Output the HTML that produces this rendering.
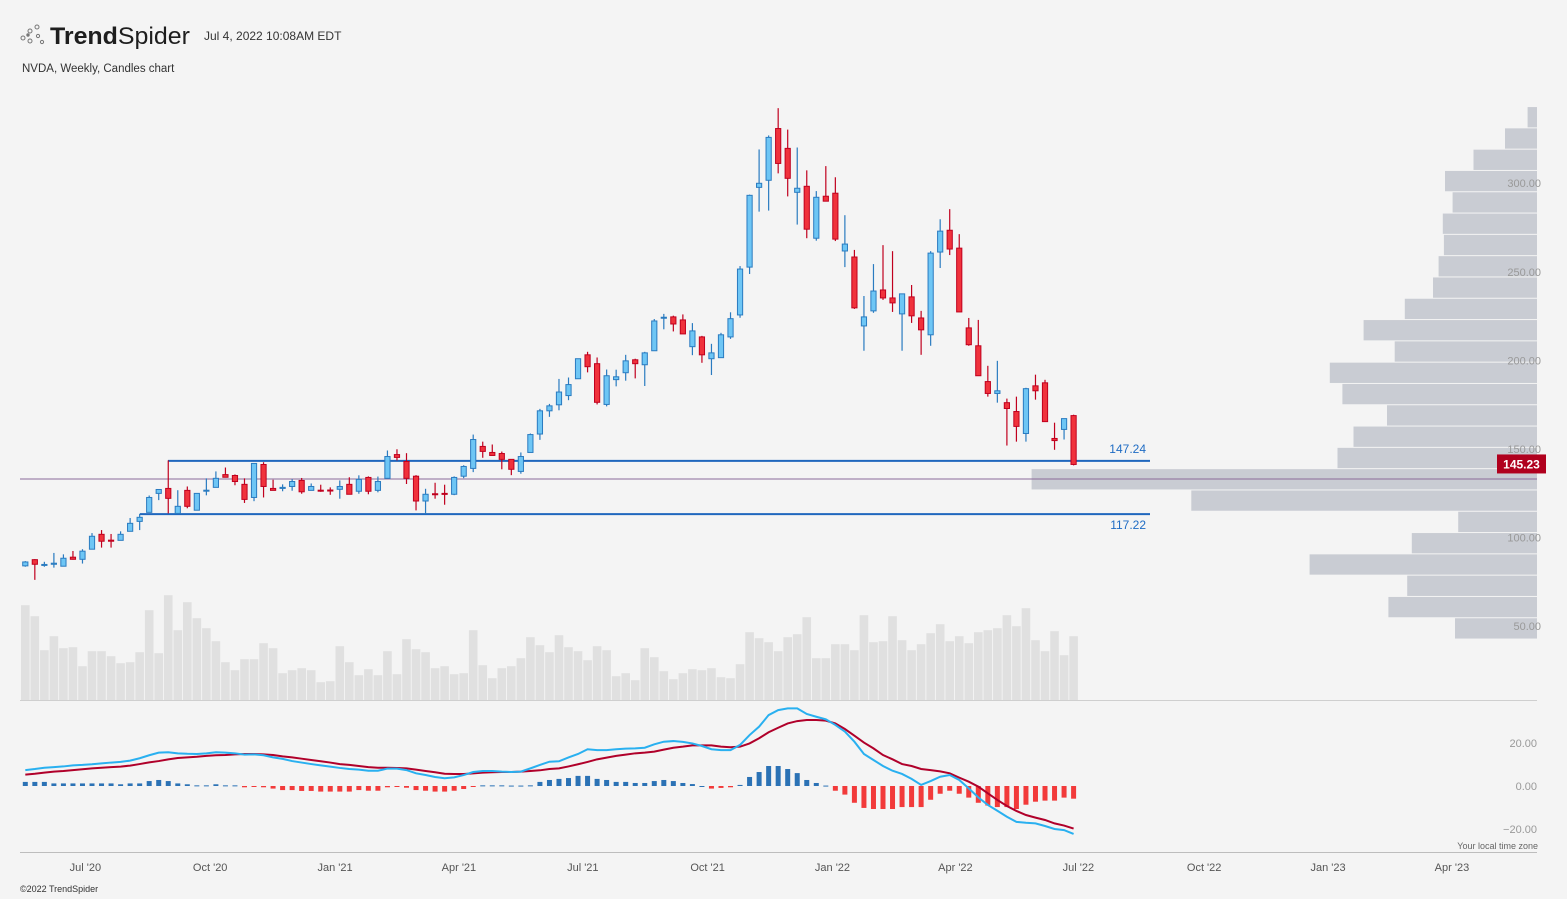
<!DOCTYPE html>
<html><head><meta charset="utf-8"><title>NVDA Weekly - TrendSpider</title>
<style>
html,body{margin:0;padding:0;background:#f4f4f4;}
svg{display:block;font-family:"Liberation Sans",sans-serif;}
</style></head>
<body>
<svg id="chart" width="1567" height="899" viewBox="0 0 1567 899" xmlns="http://www.w3.org/2000/svg">
<rect x="0" y="0" width="1567" height="899" fill="#f4f4f4"/>
<g fill="none" stroke="#777" stroke-width="1">
<circle cx="23" cy="38" r="2"/><circle cx="30" cy="31" r="2"/><circle cx="37" cy="27" r="2"/><circle cx="30" cy="41" r="2"/><circle cx="38" cy="36" r="1.6"/><circle cx="42" cy="42" r="1.6"/><circle cx="28" cy="35" r="1.2" fill="#777"/>
</g>
<text x="50" y="44" font-size="24" fill="#1e1e1e" textLength="140" lengthAdjust="spacingAndGlyphs"><tspan font-weight="bold">Trend</tspan><tspan font-weight="normal">Spider</tspan></text>
<text x="204" y="40" font-size="12" fill="#333">Jul 4, 2022 10:08AM EDT</text>
<text x="22" y="72" font-size="11.5" fill="#333">NVDA, Weekly, Candles chart</text>
<g id="profile"></g>
<g id="volume"></g>
<g id="levels"></g>
<g id="candles"></g>
<g id="yaxis"></g>
<g id="macd"></g>
<g id="xaxis"></g>
<text x="1538" y="849" font-size="9" fill="#666" text-anchor="end">Your local time zone</text>
<text x="20" y="892" font-size="9" fill="#333">©2022 TrendSpider</text>
</svg>
<script>
const opens=[88,91.5,88.3,88.9,87.8,92.9,91.7,97.4,105.8,102.5,102.4,107.5,113.1,118.2,128.9,131.7,117.6,130.6,119.4,130.5,132.3,139.5,139,134,126.6,145.2,131.7,131.7,132.8,136.2,130.6,130.7,130.8,131.2,134,130.1,137.9,130.6,137.4,150.8,146.9,138.6,124.6,128.7,128.9,128.4,138.6,143,155.4,152,151.4,148.1,141.3,152,162.4,175.5,178.9,184.1,193.6,207.1,202.1,179.1,193.1,197,204.3,201.5,209.4,228,228.5,226.8,211.7,217.2,204.9,205.5,217.2,229.6,256.6,301.6,305.6,334.8,323.6,298.8,302.2,272.9,296.6,298.3,265.7,262.3,223.4,231.9,243.7,239.2,230.2,239.8,227.9,218.4,265.1,277.4,267.3,222.3,212.2,192,185.3,180.1,175.1,162.7,189.6,191.3,159.9,165,172.8];
const highs=[90.7,91.8,90.3,95.3,94.5,96.4,97.4,106.5,108.2,106,107.5,115,117.4,127.7,131.1,147.5,130.7,132.8,128.9,137.4,141.3,143.5,139.6,137.4,145.8,146.5,136.6,134,136.9,137.6,134.5,133.8,132.3,136.2,138,139.1,138.5,138.4,153.1,153.8,151.6,139.2,131.5,134.9,133.8,138.5,144.8,162.1,158.1,156.5,152.5,148.1,152,162.7,176.6,179.4,193.5,194.3,204.9,208.8,205.6,198.8,198.7,207.1,204.9,208.8,227.3,230.2,229.2,229.9,225,217.8,213.3,219.5,231.1,257.2,297.5,323,330.9,346.3,334.2,324.1,311.2,299.5,313.6,307.3,285.9,266.3,240.3,258.3,269,265.6,241.5,246.5,231.9,265.6,283.6,289.3,275.2,227.9,226.8,200.9,203.7,182.4,183.5,188.5,195.9,193,168.8,171.1,173.3];
const lows=[87.5,80.1,87.5,87,87.8,91.5,89.3,97.4,98.3,98.3,102.4,107.5,108.2,118.2,125.1,117.6,117.6,120.5,119.4,127.8,132.3,138,133.5,123.5,124.5,126.6,130.6,130.1,130.4,128.7,130.6,129.8,128.1,125.9,128.4,128.7,128.4,129.5,137.4,147.5,134.2,119.3,117.3,125.9,122.5,127.9,137.5,140.9,149,150.3,142.5,139.2,140,152,159.1,172.1,175.8,181.5,193.6,197.2,179.1,178,189.3,192.5,193.8,189.5,209.4,221.5,220.3,218.9,206.9,202.6,195.7,205.5,216.1,228,252.7,287.9,288.5,309.5,296.5,280.6,272.9,271.5,293.8,271.3,256.6,233,209.4,230.8,238.1,231.3,209.4,225.1,207.1,212.2,256.1,263.4,231.3,212.2,195.3,183.5,180.1,155.9,158.1,158.1,181.8,169.4,153.5,159.3,144.7];
const closes=[90.2,88.9,88.8,89.5,92.3,91.7,96.3,104.7,101.9,101.9,105.8,112,115.4,126.6,131.1,126.1,121.6,121.6,128.9,130.7,137.4,138,135.6,125.5,145.8,132.8,130.6,132.3,135.6,129.8,132.8,130.4,130.6,132.8,128.4,136.8,130.1,135.6,149.7,149.2,137.4,124.6,128.4,128.5,128.4,137.9,144.1,159.3,152.6,150.3,148.1,142.5,149.7,162.1,175.5,178.3,186.1,190.3,204.9,200.4,180.3,195.3,194.7,203.7,202.1,208.2,226.2,228.3,224.5,218.9,220.6,207.1,208.2,218.4,227.5,255.5,297.1,303.9,329.8,315.1,306.7,301.1,278,296,293.8,272.4,269.6,233.6,228.5,243.1,239.2,236.4,241.5,229.1,221.2,264.5,276.9,266.8,231.3,212.8,195.3,185.3,186.8,176.8,166.7,188,186.8,169.4,158.7,171.1,145.23];
const volumes=[474,419,249,319,259,264,169,244,244,219,184,189,239,449,234,524,349,489,409,359,294,189,149,204,204,284,259,134,149,159,149,89,94,269,189,124,154,124,244,129,304,254,239,159,169,129,134,349,174,109,159,169,209,314,274,239,324,264,244,199,269,249,119,134,99,259,214,144,104,134,154,149,159,114,109,179,339,309,289,244,314,329,414,209,209,279,279,249,424,289,294,419,299,249,279,334,379,294,319,284,339,349,359,424,369,459,299,244,344,224,319];
const macdLine=[7.4,7.9,8.5,8.8,9.1,9.6,9.8,10.1,10.5,10.9,11.2,11.8,12.9,14.3,15.5,15.7,15.2,15.0,14.9,15.2,15.7,15.5,15.2,14.6,14.7,14.3,13.3,12.6,11.6,10.9,10.2,9.6,9.0,8.4,7.9,7.6,7.1,7.1,8.1,8.1,7.4,5.9,5.1,4.2,3.6,4.0,5.1,6.5,7.0,7.0,6.7,6.5,6.7,8.2,9.8,11.3,11.5,13.3,14.9,17.1,16.7,16.7,17.1,17.4,17.5,17.8,19.4,20.6,20.9,20.5,19.8,18.6,17.1,16.7,16.7,19.1,23.7,27.6,33.0,35.3,36.1,36.1,33.5,32.2,31.0,28.4,25.3,20.6,14.9,12.1,9.3,7.1,5.6,3.3,0.5,2.3,4.3,5.1,2.8,-1.1,-5.3,-8.8,-11.5,-14.3,-16.7,-17.1,-17.4,-18.6,-20.0,-20.5,-22.3];
const signalLine=[5.3,5.7,6.2,6.7,7.0,7.4,7.8,8.2,8.5,8.8,9.0,9.5,10.2,11.0,11.6,12.4,13.0,13.3,13.6,14.0,14.3,14.4,14.7,14.9,14.9,14.7,14.4,13.8,13.3,12.7,12.1,11.5,10.9,10.2,9.8,9.3,8.8,8.5,8.5,8.4,8.2,7.6,7.0,6.4,5.7,5.6,5.6,5.9,6.2,6.4,6.5,6.5,6.7,7.0,7.3,7.9,8.2,9.1,10.1,11.2,12.4,13.2,14.0,14.6,15.2,15.5,16.0,16.9,17.8,18.3,18.9,18.9,18.9,18.3,18.0,18.3,19.8,22.2,25.0,27.1,29.1,30.2,30.7,30.7,30.4,29.1,26.5,23.4,20.2,17.5,14.4,12.4,10.2,9.3,7.9,7.4,6.8,5.9,3.9,2.0,-0.3,-3.4,-6.5,-9.3,-11.6,-13.5,-14.7,-15.8,-17.4,-18.4,-19.8];
const histValues=[1.9,1.9,1.9,1.2,1.2,1.2,1.2,1.2,1.2,1.2,0.8,1.2,1.2,2.3,2.8,2.3,1.2,0.8,0.3,0.3,0.8,0.3,0.3,-0.6,-0.2,-0.6,-1.2,-1.9,-1.9,-2.3,-2.3,-2.6,-2.6,-2.6,-2.6,-1.9,-2.2,-2.2,-0.6,-0.2,-0.8,-1.9,-2.2,-2.6,-2.6,-2.2,-1.4,-0.2,0.3,0.3,0.3,0.2,0.2,0.3,1.9,2.8,3.3,3.7,4.7,4.7,3.3,2.8,1.9,1.9,1.4,1.4,2.3,2.8,2.3,1.4,0.9,0,-1.2,-0.9,-0.6,0.5,4.2,6.5,9.3,9.3,7.9,6,2.8,1.4,0.2,-2.2,-4,-7.8,-10.2,-10.7,-10.7,-10.7,-9.8,-9.8,-9.8,-6.4,-3.6,-2.2,-3.6,-5.4,-7.8,-9.1,-9.8,-9.8,-10.7,-8.7,-7.3,-6.8,-6.8,-5.4,-5.9];
const profileVolumes=[82,148.6,129.8,227.4,125.2,78.8,345.7,505.4,199.5,183.5,150,194.6,207.2,142.3,173.4,132.2,104,98.4,93.1,94.2,84.4,92,63.5,32,9.4];
const profileLow=46.7, profileStep=12.02;
const priceTicks=[50,100,150,200,250,300];
const macdTicks=[20,0,-20];
const timeLabels=["Jul '20","Oct '20","Jan '21","Apr '21","Jul '21","Oct '21","Jan '22","Apr '22","Jul '22","Oct '22","Jan '23","Apr '23"];
const timeLabelIndex=[6.3,19.4,32.5,45.5,58.5,71.6,84.7,97.6,110.5,123.7,136.7,149.7];
const upperLevel=147.24, lowerLevel=117.22, pocLevel=137, lastPrice=145.23;

const NS="http://www.w3.org/2000/svg";
function mk(tag,attrs,parent){const e=document.createElementNS(NS,tag);for(const k in attrs)e.setAttribute(k,attrs[k]);parent.appendChild(e);return e;}
const X=i=>25.3+9.53*i;
const Y=p=>456+(150-p)*1.772;
const VY=v=>700-v/5;
const MY=v=>786-v*2.15;

const gp=document.getElementById('profile');
profileVolumes.forEach((v,k)=>{
  const top=Y(profileLow+(k+1)*profileStep), bot=Y(profileLow+k*profileStep);
  const r=mk('rect',{x:1537-v,y:top+0.5,width:v,height:bot-top-1,fill:'#c9ccd3'},gp);
  
  
});

const gv=document.getElementById('volume');
mk('line',{x1:20,y1:700.5,x2:1537,y2:700.5,stroke:'#cfcfcf','stroke-width':1},gv);
volumes.forEach((v,i)=>{
  const r=mk('rect',{x:X(i)-4.3,y:VY(v),width:8.6,height:700-VY(v),fill:'#e0e0e0'},gv);
  
  
});

const gl=document.getElementById('levels');
const poc=mk('line',{x1:20,y1:Y(pocLevel),x2:1537,y2:Y(pocLevel),stroke:'#8a6a9a','stroke-width':1},gl);


const ul=mk('line',{x1:168,y1:Y(upperLevel),x2:1150,y2:Y(upperLevel),stroke:'#1f67bd','stroke-width':2},gl);


const ll=mk('line',{x1:140,y1:Y(lowerLevel),x2:1150,y2:Y(lowerLevel),stroke:'#1f67bd','stroke-width':2},gl);


const ut=mk('text',{x:1146,y:Y(upperLevel)-8,'font-size':12,fill:'#1f6cc4','text-anchor':'end'},gl);ut.textContent=upperLevel.toFixed(2);


const lt=mk('text',{x:1146,y:Y(lowerLevel)+15,'font-size':12,fill:'#1f6cc4','text-anchor':'end'},gl);lt.textContent=lowerLevel.toFixed(2);



const gc=document.getElementById('candles');
opens.forEach((o,i)=>{
  const c=closes[i],up=c>=o,x=X(i);
  const stroke=up?'#2a7bc0':'#c0001e',fill=up?'#6ec6f5':'#f0323c';
  const g=mk('g',{},gc);
  
  
  mk('line',{x1:x,y1:Y(highs[i]),x2:x,y2:Y(lows[i]),stroke:stroke,'stroke-width':1.2},g);
  const t=Y(Math.max(o,c)),b=Y(Math.min(o,c));
  mk('rect',{x:x-2.6,y:t,width:5.2,height:Math.max(1,b-t),fill:fill,stroke:stroke,'stroke-width':1},g);
});

const gy=document.getElementById('yaxis');
priceTicks.forEach(p=>{
  const t=mk('text',{x:1541,y:Y(p)-3,'font-size':11,fill:'#999','text-anchor':'end'},gy);t.textContent=p.toFixed(2);
  
  
});
const tag=mk('rect',{x:1497,y:Y(lastPrice)-10,width:49,height:19,fill:'#b0001e'},gy);


const tt=mk('text',{x:1521.5,y:Y(lastPrice)+4,'font-size':12,'font-weight':'bold',fill:'#fff','text-anchor':'middle'},gy);tt.textContent=lastPrice.toFixed(2);



const gm=document.getElementById('macd');
histValues.forEach((v,i)=>{
  const y0=MY(0),y1=MY(v);
  const r=mk('rect',{x:X(i)-2.5,y:Math.min(y0,y1),width:5,height:Math.max(1,Math.abs(y1-y0)),fill:v>=0?'#2b72b5':'#f23a3a'},gm);
  
  
});
const sp=mk('polyline',{points:signalLine.map((v,i)=>X(i)+','+MY(v)).join(' '),fill:'none',stroke:'#b0002a','stroke-width':2},gm);


const mp=mk('polyline',{points:macdLine.map((v,i)=>X(i)+','+MY(v)).join(' '),fill:'none',stroke:'#29b0f0','stroke-width':2},gm);


macdTicks.forEach(v=>{
  const t=mk('text',{x:1537,y:MY(v)+4,'font-size':11,fill:'#999','text-anchor':'end'},gm);t.textContent=(v<0?'\u221220.00':v.toFixed(2));
  
  
});

const gx=document.getElementById('xaxis');
mk('line',{x1:20,y1:852.5,x2:1537,y2:852.5,stroke:'#bdbdbd','stroke-width':1},gx);
timeLabels.forEach((s,k)=>{
  const x=X(timeLabelIndex[k]);
  const t=mk('text',{x:x,y:871,'font-size':11,fill:'#555','text-anchor':'middle'},gx);t.textContent=s;
  
  
});
</script>
</body></html>
